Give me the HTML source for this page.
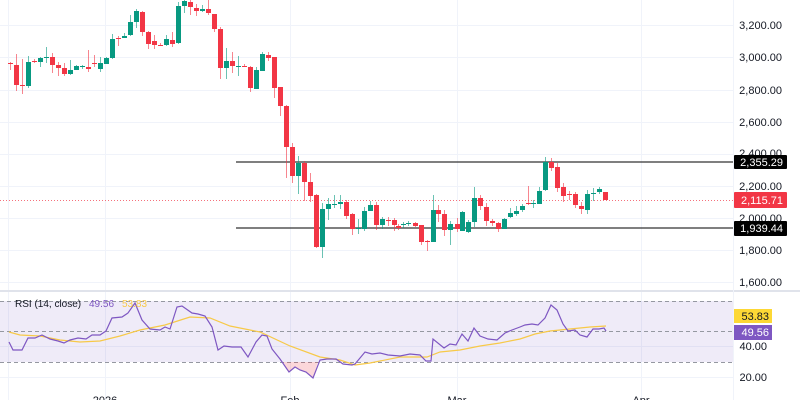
<!DOCTYPE html>
<html><head><meta charset="utf-8"><style>
html,body{margin:0;padding:0;background:#fff;width:800px;height:400px;overflow:hidden}
svg{display:block;font-family:"Liberation Sans",sans-serif}
</style></head><body>
<svg id="s" width="800" height="400" viewBox="0 0 800 400" xmlns="http://www.w3.org/2000/svg">
<g stroke="#f0f3fa" stroke-width="1">
<line x1="8.5" y1="0" x2="8.5" y2="400"/><line x1="105.5" y1="0" x2="105.5" y2="400"/><line x1="290.5" y1="0" x2="290.5" y2="400"/><line x1="457.5" y1="0" x2="457.5" y2="400"/><line x1="641.5" y1="0" x2="641.5" y2="400"/>
<line x1="0" y1="25.5" x2="733" y2="25.5"/><line x1="0" y1="57.5" x2="733" y2="57.5"/><line x1="0" y1="90.5" x2="733" y2="90.5"/><line x1="0" y1="122.5" x2="733" y2="122.5"/><line x1="0" y1="154.5" x2="733" y2="154.5"/><line x1="0" y1="186.5" x2="733" y2="186.5"/><line x1="0" y1="218.5" x2="733" y2="218.5"/><line x1="0" y1="250.5" x2="733" y2="250.5"/><line x1="0" y1="282.5" x2="733" y2="282.5"/>
<line x1="0" y1="346.5" x2="733" y2="346.5"/><line x1="0" y1="377.5" x2="733" y2="377.5"/>
</g>
<line x1="0" y1="291" x2="800" y2="291" stroke="#e0e3eb" stroke-width="2"/>
<line x1="733.5" y1="0" x2="733.5" y2="400" stroke="#f0f3fa"/>
<rect x="0" y="301" width="733" height="61" fill="#7e57c2" fill-opacity="0.12"/>
<g stroke="#9598a1" stroke-dasharray="4,3" stroke-width="1">
<line x1="0" y1="301.5" x2="733" y2="301.5"/><line x1="0" y1="331.5" x2="733" y2="331.5"/><line x1="0" y1="362.5" x2="733" y2="362.5"/>
</g>
<polygon points="283,362 289,372 295,367 300,370 306,372 313,378 318,362" fill="#f23645" fill-opacity="0.2"/>
<line x1="0" y1="200.5" x2="733" y2="200.5" stroke="#f23645" stroke-width="1" stroke-dasharray="1,2" opacity="0.7"/>
<line x1="236" y1="162" x2="733" y2="162" stroke="#333" stroke-width="1.2"/>
<line x1="236" y1="228" x2="733" y2="228" stroke="#333" stroke-width="1.2"/>
<g id="c"></g>
<polyline fill="none" stroke="#f7c948" stroke-width="1.2" points="9,332 20,335 40,336 60,340 80,342 100,341 120,336 140,330 165,325 190,317 210,318 230,326 260,332 290,346 320,357 340,360 355,365 370,363 400,357 427,357 440,352 460,350 480,346 500,343 520,339 535,334 550,331 570,329 590,327 606,326"/>
<polyline fill="none" stroke="#7e57c2" stroke-width="1.2" points="9,342 13,350 22,350 28,338 35,338 42,335 50,339 58,341 64,343 70,340 78,338 86,339 92,335 100,335 106,331 112,318 122,317 128,313 135,303 142,320 150,329 160,330 165,327 170,329 177,307 182,306 192,313 198,314 205,316 212,327 218,350 224,346 232,347 241,347 248,357 256,342 262,335 267,336 272,349 280,359 289,372 295,367 300,370 306,372 313,378 320,360 327,359 336,359 343,364 352,365 355,364 365,352 372,354 380,353 388,355 400,356 410,354 420,355 426,361 431,361 433,339 444,348 450,344 456,345 462,334 468,341 474,328 480,336 488,339 497,340 505,333 512,330 520,327 525,325 532,324 538,325 545,318 551,305 557,310 563,324 568,331 575,330 580,335 587,337 593,329 599,329 604,328 606,331"/>
<g font-size="11" fill="#131722" text-anchor="end">
<text x="782" y="29">3,200.00</text><text x="782" y="61">3,000.00</text><text x="782" y="94">2,800.00</text><text x="782" y="126">2,600.00</text><text x="782" y="157">2,400.00</text><text x="782" y="190">2,200.00</text><text x="782" y="222">2,000.00</text><text x="782" y="254">1,800.00</text><text x="782" y="286">1,600.00</text>
<text x="767" y="350">40.00</text><text x="767" y="381">20.00</text>
</g>
<rect x="734" y="155" width="53" height="14" fill="#000" rx="1"/><text x="783" y="166" font-size="11" fill="#fff" text-anchor="end">2,355.29</text>
<rect x="734" y="192" width="53" height="16" fill="#f23645" rx="1"/><text x="783" y="204" font-size="11" fill="#fff" text-anchor="end">2,115.71</text>
<rect x="734" y="221" width="53" height="15" fill="#000" rx="1"/><text x="783" y="232" font-size="11" fill="#fff" text-anchor="end">1,939.44</text>
<rect x="734" y="309" width="38" height="14" fill="#fdd835"/><text x="769" y="320" font-size="11" fill="#131722" text-anchor="end">53.83</text>
<rect x="734" y="325" width="38" height="15" fill="#7e57c2"/><text x="769" y="336" font-size="11" fill="#fff" text-anchor="end">49.56</text>
<text x="15" y="307" font-size="10" fill="#131722">RSI (14, close)</text>
<text x="89" y="307" font-size="10" fill="#7e57c2">49.56</text>
<text x="122" y="307" font-size="10" fill="#f7c948">53.83</text>
<g font-size="11" fill="#131722" text-anchor="middle">
<text x="105" y="404">2026</text><text x="290" y="404">Feb</text><text x="457" y="404">Mar</text><text x="641" y="404">Apr</text>
</g>
</svg>
<script>
var d=[[10,63,64,62,70],[16,65,85,54,91],[22,85,86,59,94],[28,86,62,56,88],[34,61,62,59,63],[40,62,58,57,67],[46,58,57,47,63],[52,57,65,53,73],[58,65,68,62,76],[64,68,74,63,76],[70,74,70,60,75],[76,70,66,65,70],[82,67,66,65,69],[88,67,69,50,72],[94,63,64,55,67],[100,69,63,57,72],[106,64,58,57,64],[112,58,39,34,59],[118,38,39,36,46],[124,38,36,33,38],[130,35,22,15,36],[136,22,11,9,28],[142,12,32,11,36],[148,32,44,31,49],[154,41,45,35,49],[160,45,46,43,46],[166,45,39,35,46],[172,40,44,32,47],[178,43,6,2,44],[184,6,1,0,13],[190,2,7,0,15],[196,8,11,4,16],[202,11,9,5,12],[208,9,13,0,15],[214,14,29,14,32],[220,29,68,27,79],[226,68,61,48,79],[232,61,66,52,73],[238,67,66,56,76],[244,66,67,64,67],[250,67,88,66,92],[256,89,70,67,89],[262,71,54,52,71],[268,55,58,52,61],[274,57,88,57,98],[280,87,106,87,116],[286,106,147,105,178],[292,147,176,143,183],[298,176,163,156,194],[304,163,182,161,201],[310,182,196,173,202],[316,195,247,194,248],[322,247,209,203,258],[328,209,204,198,220],[334,205,204,195,208],[340,204,202,195,209],[346,202,216,200,219],[352,214,229,213,235],[358,229,228,219,234],[364,229,211,207,231],[370,211,205,201,211],[376,205,225,202,230],[382,225,219,217,229],[388,220,221,217,226],[394,220,225,218,231],[398,226,228,224,230],[403,225,224,222,228],[408,224,223,221,226],[415,223,226,222,227],[421,225,242,225,245],[427,241,242,240,251],[433,242,210,195,242],[438,210,214,205,222],[444,214,230,210,236],[450,230,224,221,245],[457,224,229,218,232],[462,231,212,211,231],[468,232,222,220,233],[474,222,198,187,227],[480,198,206,195,210],[486,207,221,203,226],[492,221,223,219,226],[498,223,229,222,232],[504,229,219,218,229],[510,217,213,208,218],[516,214,211,206,216],[522,210,206,204,212],[528,203,204,186,205],[533,204,203,200,208],[539,204,191,187,204],[545,190,162,157,191],[551,162,168,158,171],[557,167,188,163,192],[563,187,196,183,202],[569,194,195,191,200],[575,194,205,192,208],[581,206,209,202,214],[587,210,194,190,214],[593,194,193,188,201],[599,192,189,187,194],[605,192,200,192,200]];
var g=document.getElementById('c'),h='';
d.forEach(function(c){var x=c[0],o=c[1],cl=c[2],hi=c[3],lo=c[4];var up=cl<o||(cl==o);var col=cl<=o?'#089981':'#f23645';if(cl>o)col='#f23645';
var t=Math.min(o,cl),b=Math.max(o,cl);if(b-t<1)b=t+1;
h+='<line x1="'+(x+0.5)+'" y1="'+hi+'" x2="'+(x+0.5)+'" y2="'+lo+'" stroke="'+col+'" stroke-opacity="0.6"/>';
h+='<rect x="'+(x-2)+'" y="'+t+'" width="5" height="'+(b-t)+'" fill="'+col+'"/>';});
g.innerHTML=h;
</script>
</body></html>
